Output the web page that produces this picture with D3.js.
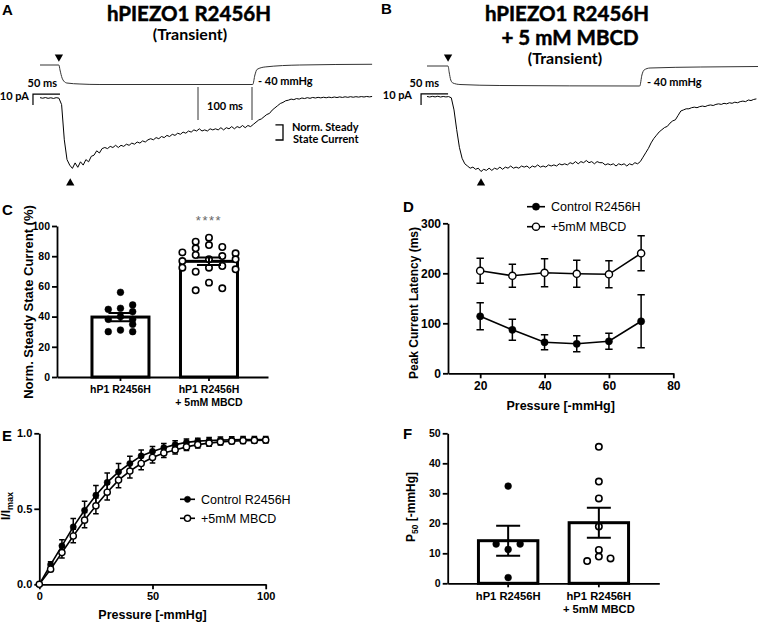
<!DOCTYPE html>
<html><head><meta charset="utf-8">
<script src="https://cdn.jsdelivr.net/npm/d3@7"></script>
<style>
body{margin:0;background:#fff}
svg{display:block}
text{font-family:"Liberation Sans",Arial,sans-serif;fill:#000}
.cal{font-family:Lato,"Open Sans",sans-serif;font-weight:700}
.big{stroke:#000;stroke-width:0.5}
.ax path,.ax line{stroke:#000;stroke-width:1.8}
.ax text{font-weight:bold}
</style></head><body>
<svg id="fig" width="758" height="623"></svg>
<script>
// ---------------- DATA ----------------
// Panels A/B: current traces (pA), sampled every 5 ms
const traceDt = 5;
const currentA = [0.3,-0.2,0.4,-0.3,0.2,-0.4,0.3,-0.1,
 -6,-38,-56,-61,-64,-59,-63,-58,-61,-56,-58,-53,-52,-48,-50,-46,-45,-46,-44,-45,-43,-45,-43,-44,-42,-43,-41,-42,-40,-41,-39,-40,-38,-37,-38,-36,-37,-35,-36,-34,-35,-33,-34,-32,-33,-31,-32,-30,-31,-29,-30,-28,-30,-29,-30,-28,-29,-28,-29,-27,-29,-27,-28,-26,-28,-26,-27,-25,-27,-25,-26,-24,
 -22,-20,-19,-17,-15,-14,-11,-9,-7,-5,-4,-2.5,-2,-1,-1.5,-0.5,-1,0,-0.5,0.3,-0.3,0.5,0,0.6,0.1,0.7,0.2,0.8,0.3,0.9,0.4,1,0.5,1.1,0.6,1.2,0.7,1.2,0.8,1.3,0.9,1.4,1,1.4];
const currentB = [0.2,-0.3,0.3,-0.2,0.4,-0.3,0.2,-0.2,0.1,
 -1,-12,-30,-46,-56,-61,-63,-65,-64,-66,-65,-68,-66,-67,-65,-67,-65,-66,-64,-66,-64,-65,-63,-65,-64,-65,-63,-64,-63,-65,-63,-64,-62,-64,-63,-64,-62,-63,-62,-63,-61,-62,-61,-62,-60,-61,-59,-61,-59,-60,-58,-60,-59,-61,-59,-60,-60,-62,-61,-62,-61,-63,-61,-62,-61,-63,-61,-62,-60,-61,-59,
 -55,-51,-47,-42,-38,-35,-32,-30,-28,-27,-24,-22,-21,-17,-13,-12,-11,-11,-10,-9.5,-10,-9,-8.5,-9,-8,-7.5,-8,-7,-6.5,-7,-6,-6.5,-5.5,-6,-5,-5.5,-4.5,-4,-4.5,-3,-3.5,-2.5,-2];
// pressure stimulus [ms, mmHg]
const stimA = [[0,0],[35,0],[37,-10],[41,-27],[44,-33],[50,-37],[74,-39],[111,-40],[394,-40],[398,-20.5],[402,-9],[417,-4],[481,0],[615,1.5]];
const stimB = [[0,0],[39,0],[41,-12],[44,-28],[48,-34],[61,-37],[135,-39],[394,-40],[398,-18],[402,-8],[413,-4],[506,-2],[613,-1]];
const onsetA = 35, peakA = 56, onsetB = 39, peakB = 100;

// Panel C: normalized steady-state current (%)
const cGroups = ["hP1 R2456H", "hP1 R2456H|+ 5mM MBCD"];
const cControlCols = [[44.8,38.2,30],[56.1,45.5,40,31.1],[47.7,43.3,38.2,34.9,30]];
const cMbcdCols = [[82.5,76.8,72.4],[89.6,85.2,80.8,69.7,57.4],[92.3,87.4,77.9,72.4,62.5],[86.1,80.1,73.5,58.7],[81.9,77.9,71.3]];
const cMeans = [39.7, 76.6];
const cSem = [2.7, 2.5];
const cTicks = [0,20,40,60,80,100];

// Panel D: peak current latency (ms)
const dPressure = [20,30,40,50,60,70];
const dControl = [114,87,62,59,64,104];
const dControlSem = [27,21,15,16,16,53];
const dMbcd = [205,195,201,199,198,240];
const dMbcdSem = [25,23,28,27,27,35];
const dSeries = ["Control R2456H", "+5mM MBCD"];

// Panel E: I/Imax vs pressure
const ePressure = [0,5,10,15,20,25,30,35,40,45,50,55,60,65,70,75,80,85,90,95,100];
const eControl = [0,0.13,0.255,0.38,0.49,0.59,0.675,0.745,0.80,0.85,0.88,0.905,0.925,0.94,0.948,0.952,0.955,0.957,0.958,0.958,0.958];
const eControlSem = [0,0.02,0.04,0.055,0.06,0.065,0.062,0.055,0.048,0.04,0.032,0.028,0.025,0.022,0.02,0.02,0.02,0.02,0.02,0.02,0.02];
const eMbcd = [0,0.10,0.21,0.32,0.425,0.52,0.61,0.69,0.75,0.80,0.84,0.87,0.89,0.91,0.925,0.935,0.943,0.948,0.951,0.953,0.955];
const eMbcdSem = [0,0.015,0.035,0.045,0.05,0.052,0.052,0.05,0.046,0.042,0.036,0.03,0.027,0.024,0.022,0.02,0.02,0.018,0.018,0.018,0.018];

// Panel F: P50 (-mmHg)
const fGroups = ["hP1 R2456H", "hP1 R2456H|+ 5mM MBCD"];
const fControlCols = [[13.1],[32.4,11.3,1.9],[13.1]];
const fMbcdCols = [[7.4],[45.5,33.9,28.3,18.9,11.1,8.9],[8.3]];
const fMeans = [14.2, 20.2];
const fSem = [5.0, 5.0];
const fTicks = [0,10,20,30,40,50];

// ---------------- DRAW ----------------
const svg = d3.select("#fig");
svg.append("rect").attr("width",758).attr("height",623).attr("fill","#fff");

function letter(t,x,y){svg.append("text").attr("x",x).attr("y",y).attr("font-size",15).attr("font-weight","bold").text(t);}
letter("A",2,15); letter("B",381,14); letter("C",2,215); letter("D",403,212); letter("E",2,441); letter("F",403,439);

function ctext(x,y,t,size,anchor,cls){
  return svg.append("text").attr("x",x).attr("y",y).attr("font-size",size).attr("text-anchor",anchor||"start").attr("class",cls||null).text(t);
}
const tri = d3.symbol().type(d3.symbolTriangle).size(30);

function tracePanel(cfg){
  const xs = d3.scaleLinear().domain([0,620]).range(cfg.xr);
  const ys = d3.scaleLinear().domain([-70,0]).range(cfg.yr);
  const ps = d3.scaleLinear().domain([-40,0]).range(cfg.pr);
  svg.append("path").datum(cfg.stim)
    .attr("d", d3.line().x(d=>xs(d[0])).y(d=>ps(d[1])).curve(d3.curveMonotoneX))
    .attr("fill","none").attr("stroke","#333").attr("stroke-width",1);
  svg.append("path").datum(cfg.cur)
    .attr("d", d3.line().x((d,i)=>xs(i*traceDt)).y(d=>ys(d)))
    .attr("fill","none").attr("stroke","#000").attr("stroke-width",1);
  svg.append("path").attr("d",tri).attr("transform",`translate(${xs(cfg.onset)},57) rotate(180)`).attr("fill","#000");
  svg.append("path").attr("d",tri).attr("transform",`translate(${xs(cfg.peak)},183)`).attr("fill","#000");
  const sb0 = cfg.sbT, sbTop = cfg.sbI;
  svg.append("path").attr("d",`M${xs(sb0+50)},${ys(sbTop)}H${xs(sb0)}V${ys(sbTop-10)}`)
    .attr("fill","none").attr("stroke","#000").attr("stroke-width",1.2);
  ctext(cfg.msX,87,"50 ms",11,"end","cal");
  ctext(cfg.pAX,cfg.pAY,"10 pA",11,"end","cal");
  ctext(cfg.mmX,cfg.mmY,"- 40 mmHg",11,"start","cal");
  return {xs,ys};
}
const A = tracePanel({xr:[40,374.8],yr:[175,98],pr:[84.5,65],stim:stimA,cur:currentA,onset:onsetA,peak:peakA,
  sbT:-13,sbI:3.6,msX:57,pAX:29,pAY:100,mmX:258,mmY:85});
const B = tracePanel({xr:[427,761.8],yr:[173.7,96.7],pr:[86,66],stim:stimB,cur:currentB,onset:onsetB,peak:peakB,
  sbT:-11,sbI:2.5,msX:439,pAX:412,pAY:99,mmX:647,mmY:86});

[292.6,392.6].forEach(t=>svg.append("line").attr("x1",A.xs(t)).attr("x2",A.xs(t)).attr("y1",A.ys(10)).attr("y2",A.ys(-20)).attr("stroke","#333").attr("stroke-width",1));
ctext(A.xs(342.6),110,"100 ms",11,"middle","cal");
svg.append("path").attr("d",`M${A.xs(436)},${A.ys(-24.5)}H${A.xs(450)}V${A.ys(-38.2)}H${A.xs(436)}`).attr("fill","none").attr("stroke","#000").attr("stroke-width",1.3);
ctext(292,131,"Norm. Steady",11,"start","cal");
ctext(293,143,"State Current",11,"start","cal");

ctext(189,20.5,"hPIEZO1 R2456H",20.5,"middle","cal big");
ctext(190,39.5,"(Transient)",16,"middle","cal");
ctext(567,20.5,"hPIEZO1 R2456H",20.5,"middle","cal big");
ctext(570,45,"+ 5 mM MBCD",20.5,"middle","cal big");
ctext(565,64,"(Transient)",16,"middle","cal");

// ---------- bar/dot panels ----------
function barPanel(cfg){
  const y = d3.scaleLinear().domain([0,cfg.max]).range(cfg.yr);
  const x = d3.scaleBand().domain(cfg.groups).range(cfg.xr).paddingInner(cfg.pi).paddingOuter(cfg.po).align(cfg.al);
  const gy = svg.append("g").attr("class","ax").attr("transform",`translate(${cfg.xr[0]},0)`)
    .call(d3.axisLeft(y).tickValues(cfg.ticks).tickSize(5).tickPadding(2).tickSizeOuter(0));
  gy.selectAll("text").attr("font-size",cfg.fs);
  svg.append("g").attr("class","ax").attr("transform",`translate(0,${cfg.yr[0]})`)
    .call(d3.axisBottom(x).tickSize(4).tickSizeOuter(0).tickFormat(""));
  cfg.groups.forEach((g,i)=>{
    const cx = x(g)+x.bandwidth()/2;
    const t = svg.append("text").attr("text-anchor","middle").attr("font-weight","bold").attr("font-size",cfg.cfs);
    g.split("|").forEach((ln,j)=>t.append("tspan").attr("x",cx).attr("y",cfg.labY+j*13).text(ln));
    svg.append("rect").attr("x",x(g)).attr("width",x.bandwidth()).attr("y",y(cfg.means[i])).attr("height",y(0)-y(cfg.means[i]))
      .attr("fill","#fff").attr("stroke","#000").attr("stroke-width",3);
  });
  const dots = (cols,g,open,sp)=>{
    const cx = x(g)+x.bandwidth()/2, mid=(cols.length-1)/2;
    cols.forEach((col,ci)=>col.forEach(v=>{
      svg.append("circle").attr("cx",cx+(ci-mid)*sp).attr("cy",y(v)).attr("r",open?3.2:3.4)
        .attr("fill",open?"#fff":"#000").attr("stroke","#000").attr("stroke-width",open?1.6:0.5);
    }));
  };
  dots(cfg.c1,cfg.groups[0],false,cfg.sp1);
  dots(cfg.c2,cfg.groups[1],true,cfg.sp2);
  cfg.groups.forEach((g,i)=>{
    const cx = x(g)+x.bandwidth()/2, m=cfg.means[i], s=cfg.sem[i];
    svg.append("path").attr("d",`M${cx},${y(m-s)}V${y(m+s)}M${cx-12},${y(m+s)}H${cx+12}M${cx-12},${y(m-s)}H${cx+12}`)
      .attr("fill","none").attr("stroke","#000").attr("stroke-width",2);
  });
  return {x,y};
}
const C = barPanel({max:100,yr:[377,226],xr:[57,268],groups:cGroups,pi:0.356,po:0.37,al:0.534,ticks:cTicks,fs:10.5,cfs:10.5,
  labY:393,means:cMeans,sem:cSem,c1:cControlCols,c2:cMbcdCols,sp1:12.2,sp2:13.3});
svg.append("text").attr("x",C.x(cGroups[1])+C.x.bandwidth()/2).attr("y",225).attr("text-anchor","middle")
  .attr("font-size",13).attr("letter-spacing",1.5).style("fill","#666").text("****");
svg.append("text").attr("transform","translate(32.5,302) rotate(-90)").attr("text-anchor","middle")
  .attr("font-size",13).attr("font-weight","bold").text("Norm. Steady State Current (%)");

const F = barPanel({max:50,yr:[583.3,433.3],xr:[447.7,659.3],groups:fGroups,pi:0.345,po:0.339,al:0.5,ticks:fTicks,fs:10.5,cfs:11.2,
  labY:600,means:fMeans,sem:fSem,c1:fControlCols,c2:fMbcdCols,sp1:12,sp2:11.7});
{
  const t = svg.append("text").attr("transform","translate(415,507) rotate(-90)").attr("text-anchor","middle")
    .attr("font-size",12).attr("font-weight","bold");
  t.append("tspan").text("P");
  t.append("tspan").attr("font-size",8.5).attr("dy",3).text("50");
  t.append("tspan").attr("dy",-3).text(" [-mmHg]");
}

// ---------- line panels ----------
function linePanel(cfg){
  const x = d3.scaleLinear().domain(cfg.xd).range(cfg.xr);
  const y = d3.scaleLinear().domain(cfg.yd).range(cfg.yr);
  const gy = svg.append("g").attr("class","ax").attr("transform",`translate(${cfg.xr[0]},0)`)
    .call(d3.axisLeft(y).tickValues(cfg.yt).tickSize(5).tickPadding(2).tickSizeOuter(0).tickFormat(cfg.yf||null));
  gy.selectAll("text").attr("font-size",cfg.fs);
  const gx = svg.append("g").attr("class","ax").attr("transform",`translate(0,${cfg.yr[0]})`)
    .call(d3.axisBottom(x).tickValues(cfg.xt).tickSize(5).tickPadding(3).tickSizeOuter(0));
  gx.selectAll("text").attr("font-size",cfg.fs);
  svg.append("text").attr("x",(cfg.xr[0]+cfg.xr[1])/2).attr("y",cfg.xtY).attr("text-anchor","middle")
    .attr("font-size",12.5).attr("font-weight","bold").text("Pressure [-mmHg]");
  cfg.series.forEach(s=>{
    const pts = cfg.xs.map((p,i)=>({p,v:s.v[i],e:s.e[i]}));
    svg.append("path").datum(pts).attr("d",d3.line().x(d=>x(d.p)).y(d=>y(d.v)))
      .attr("fill","none").attr("stroke","#000").attr("stroke-width",1.6);
    pts.forEach(d=>{
      if(d.e>0){
        const cx=x(d.p), w=cfg.cap;
        svg.append("path").attr("d",`M${cx},${y(d.v-d.e)}V${y(d.v+d.e)}M${cx-w},${y(d.v+d.e)}H${cx+w}M${cx-w},${y(d.v-d.e)}H${cx+w}`)
          .attr("fill","none").attr("stroke","#000").attr("stroke-width",1.5);
      }
    });
    pts.forEach(d=>svg.append("circle").attr("cx",x(d.p)).attr("cy",y(d.v)).attr("r",cfg.r)
      .attr("fill",s.open?"#fff":"#000").attr("stroke","#000").attr("stroke-width",s.open?1.4:0.5));
  });
  cfg.series.forEach((s,i)=>{
    const ly = cfg.leg[1]+i*cfg.legDy;
    svg.append("line").attr("x1",cfg.leg[0]).attr("x2",cfg.leg[0]+cfg.legW).attr("y1",ly).attr("y2",ly).attr("stroke","#000").attr("stroke-width",1.6);
    svg.append("circle").attr("cx",cfg.leg[0]+cfg.legW/2).attr("cy",ly).attr("r",cfg.r)
      .attr("fill",s.open?"#fff":"#000").attr("stroke","#000").attr("stroke-width",s.open?1.4:0.5);
    svg.append("text").attr("x",cfg.leg[0]+cfg.legW+6).attr("y",ly+4.5).attr("font-size",12.5).text(s.name);
  });
  return {x,y};
}
linePanel({xd:[10,80],xr:[448,673.3],yd:[0,300],yr:[373.3,223.3],xt:[20,40,60,80],yt:[0,100,200,300],fs:12,xtY:410,
  xs:dPressure,cap:3.7,r:3.6,
  series:[{name:dSeries[0],v:dControl,e:dControlSem,open:false},{name:dSeries[1],v:dMbcd,e:dMbcdSem,open:true}],
  leg:[527,206.7],legW:18,legDy:20});
svg.append("text").attr("transform","translate(417.5,303) rotate(-90)").attr("text-anchor","middle")
  .attr("font-size",12).attr("font-weight","bold").text("Peak Current Latency (ms)");

linePanel({xd:[0,100],xr:[39.3,265.7],yd:[0,1],yr:[584.3,433.3],xt:[0,50,100],yt:[0,0.5,1],yf:d3.format(".1f"),fs:11,xtY:619,
  xs:ePressure,cap:2.8,r:3.1,
  series:[{name:dSeries[0],v:eControl,e:eControlSem,open:false},{name:dSeries[1],v:eMbcd,e:eMbcdSem,open:true}],
  leg:[180,499.3],legW:15,legDy:19});
{
  const t = svg.append("text").attr("transform","translate(9.6,506) rotate(-90)").attr("text-anchor","middle")
    .attr("font-size",12).attr("font-weight","bold");
  t.append("tspan").text("I/I");
  t.append("tspan").attr("font-size",9).attr("dy",3).text("max");
}
</script></body></html>
